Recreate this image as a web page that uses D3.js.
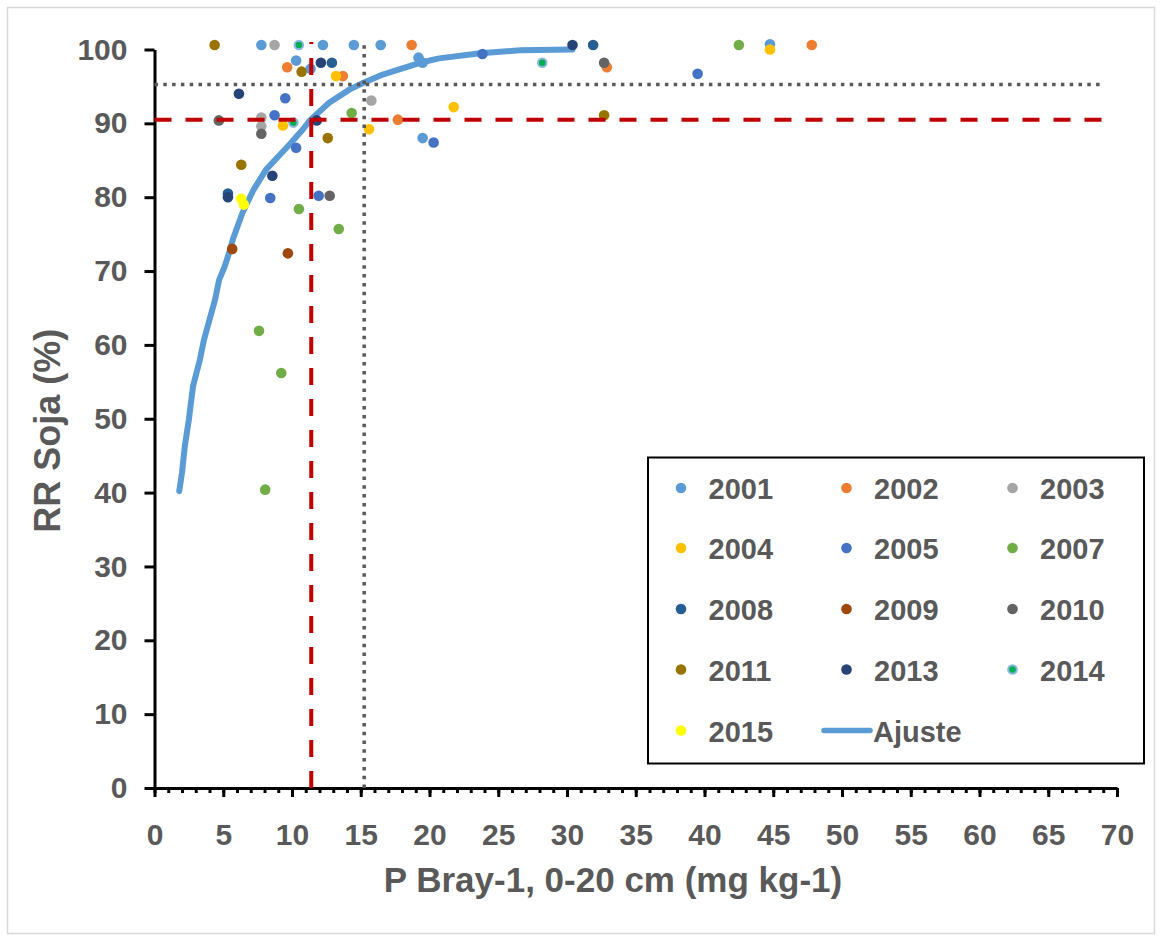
<!DOCTYPE html>
<html>
<head>
<meta charset="utf-8">
<script src="https://cdn.jsdelivr.net/npm/d3@7"></script>
<style>
  body { margin: 0; background: #fff; }
  text { font-family: "Liberation Sans", Arial, sans-serif; font-weight: bold; fill: #595959; }
</style>
</head>
<body>
<div id="chart"></div>
<script>
// data: [P Bray-1, RR %]
const years = ['2001', '2002', '2003', '2004', '2005', '2007', '2008', '2009', '2010', '2011', '2013', '2014', '2015'];
const colors = ['#5B9BD5', '#ED7D31', '#A5A5A5', '#FFC000', '#4472C4', '#70AD47', '#255E91', '#9E480E', '#636363', '#997300', '#264478', '#00B050', '#FFFF00'];

const pts2001 = [[7.77, 100.6], [12.25, 100.6], [14.5, 100.6], [16.45, 100.6], [10.3, 98.5], [11.35, 97.4], [19.2, 98.9], [19.5, 98.2], [19.5, 88.0], [44.76, 100.7]];
const pts2002 = [[18.7, 100.6], [9.65, 97.6], [13.7, 96.4], [17.7, 90.5], [32.9, 97.6], [47.8, 100.6]];
const pts2003 = [[8.73, 100.6], [15.77, 93.1], [7.77, 90.8], [7.77, 89.6]];
const pts2004 = [[13.2, 96.4], [21.76, 92.2], [9.34, 89.7], [15.6, 89.2], [44.76, 100.0]];
const pts2005 = [[9.51, 93.4], [8.73, 91.1], [20.3, 87.4], [10.3, 86.7], [23.85, 99.4], [39.5, 96.7], [8.42, 79.9], [11.94, 80.2]];
const pts2007 = [[14.34, 91.4], [42.5, 100.6], [10.5, 78.4], [13.4, 75.7], [7.6, 61.9], [9.22, 56.2], [8.05, 40.4]];
const pts2008 = [[12.9, 98.2], [31.9, 100.6], [5.34, 80.5]];
const pts2009 = [[5.65, 73.0], [9.7, 72.4]];
const pts2010 = [[4.68, 90.4], [7.77, 88.6], [32.7, 98.2], [12.74, 80.2]];
const pts2011 = [[4.37, 100.6], [10.7, 97.0], [12.6, 88.0], [32.7, 91.1], [6.31, 84.4]];
const pts2013 = [[12.1, 98.2], [6.14, 94.0], [11.8, 90.4], [30.4, 100.6], [8.57, 82.9], [5.34, 80.0]];
const pts2014 = [[10.5, 100.6], [10.1, 90.1], [28.2, 98.2]];
const pts2015 = [[6.31, 79.8], [6.5, 79.0]];
const allPoints = [pts2001, pts2002, pts2003, pts2004, pts2005, pts2007, pts2008, pts2009, pts2010, pts2011, pts2013, pts2014, pts2015];

// fitted curve ("Ajuste")
const ajuste = [[1.8, 40.2], [2.0, 42.7], [2.2, 46.2], [2.5, 49.9], [2.8, 54.4], [3.3, 58.0], [3.6, 60.7], [4.0, 63.4],
  [4.4, 66.1], [4.7, 68.8], [5.1, 70.6], [5.5, 72.9], [5.7, 74.3], [6.4, 77.9], [7.2, 81.0], [8.1, 83.7], [8.9, 85.3],
  [9.8, 87.1], [10.8, 89.2], [11.3, 90.4], [12.7, 92.8], [14.2, 94.6], [15.2, 95.5], [16.6, 96.6], [17.8, 97.3],
  [19.3, 98.2], [20.7, 98.8], [23.7, 99.5], [26.6, 99.9], [30.4, 100]];

// critical levels
const critRed = [11.4, 90.5];
const critDot = [15.25, 95.25];

const xTicks = d3.range(0, 71, 5);
const yTicks = d3.range(0, 101, 10);

const width = 1162, height = 941;

const svg = d3.select('#chart').append('svg')
  .attr('width', width)
  .attr('height', height);

svg.append('rect')
  .attr('x', 7.5).attr('y', 7.5)
  .attr('width', 1147).attr('height', 926)
  .attr('fill', '#fff')
  .attr('stroke', '#D9D9D9')
  .attr('stroke-width', 1.5);

const x = d3.scaleLinear().domain([0, 70]).range([154.5, 1117]);
const y = d3.scaleLinear().domain([0, 100]).range([788, 49.5]);

// x axis, minor then major ticks
const xMinor = svg.append('g')
  .attr('transform', `translate(0,${y(0)})`)
  .call(d3.axisBottom(x).tickValues(d3.range(0, 71, 1)).tickSize(5).tickSizeOuter(0).tickFormat(''));
xMinor.select('.domain').remove();

const xAxis = svg.append('g')
  .attr('transform', `translate(0,${y(0)})`)
  .call(d3.axisBottom(x).tickValues(xTicks).tickSize(9).tickSizeOuter(0).tickPadding(27));

const yAxis = svg.append('g')
  .attr('transform', `translate(${x(0)},0)`)
  .call(d3.axisLeft(y).tickValues(yTicks).tickSize(10).tickSizeOuter(0).tickPadding(17));

svg.selectAll('.domain').attr('stroke', '#000').attr('stroke-width', 3);
svg.selectAll('.tick line').attr('stroke', '#000').attr('stroke-width', 3);
svg.selectAll('.tick text')
  .attr('font-size', 30)
  .attr('font-family', '"Liberation Sans", Arial, sans-serif')
  .attr('font-weight', 'bold')
  .attr('fill', '#595959');

// axis titles
svg.append('text')
  .attr('x', 613)
  .attr('y', 892)
  .attr('text-anchor', 'middle')
  .attr('font-size', 35)
  .text('P Bray-1, 0-20 cm (mg kg-1)');

svg.append('text')
  .attr('transform', `translate(60,${(y(0) + y(100)) / 2 + 12}) rotate(-90)`)
  .attr('text-anchor', 'middle')
  .attr('font-size', 36)
  .text('RR Soja (%)');

// fitted curve
const line = d3.line().x(d => x(d[0])).y(d => y(d[1]));
svg.append('path')
  .datum(ajuste)
  .attr('d', line)
  .attr('fill', 'none')
  .attr('stroke', '#5B9BD5')
  .attr('stroke-width', 6)
  .attr('stroke-linejoin', 'round')
  .attr('stroke-linecap', 'round');

// points
function drawMarker(g, cx, cy, i) {
  if (years[i] === '2014') {
    g.append('circle').attr('cx', cx).attr('cy', cy).attr('r', 4.3)
      .attr('fill', colors[i]).attr('stroke', '#8DB7E2').attr('stroke-width', 2);
  } else {
    g.append('circle').attr('cx', cx).attr('cy', cy).attr('r', 5.3).attr('fill', colors[i]);
  }
}

const pointsG = svg.append('g');
allPoints.forEach((pts, i) => {
  pts.forEach(d => drawMarker(pointsG, x(d[0]), y(d[1]), i));
});

// reference lines
const refG = svg.append('g');
refG.append('line')
  .attr('x1', x(0)).attr('x2', x(69))
  .attr('y1', y(critDot[1])).attr('y2', y(critDot[1]))
  .attr('stroke', '#595959').attr('stroke-width', 3.5).attr('stroke-dasharray', '3.5,5.3');
refG.append('line')
  .attr('x1', x(critDot[0])).attr('x2', x(critDot[0]))
  .attr('y1', y(0)).attr('y2', y(100.6))
  .attr('stroke', '#595959').attr('stroke-width', 3.5).attr('stroke-dasharray', '3.5,5.3');
refG.append('line')
  .attr('x1', x(0)).attr('x2', x(69))
  .attr('y1', y(critRed[1])).attr('y2', y(critRed[1]))
  .attr('stroke', '#C00000').attr('stroke-width', 4).attr('stroke-dasharray', '17,14');
refG.append('line')
  .attr('x1', x(critRed[0])).attr('x2', x(critRed[0]))
  .attr('y1', y(0)).attr('y2', y(101))
  .attr('stroke', '#C00000').attr('stroke-width', 4).attr('stroke-dasharray', '17,14');

// legend
const legend = svg.append('g');
legend.append('rect')
  .attr('x', 648).attr('y', 457.5)
  .attr('width', 496).attr('height', 306)
  .attr('fill', '#fff')
  .attr('stroke', '#000')
  .attr('stroke-width', 2);

const colX = [681, 846.5, 1012.5];
const rowY = [488, 548, 609, 669.5, 730.5];

years.forEach((yr, i) => {
  const cx = colX[i % 3], cy = rowY[Math.floor(i / 3)];
  drawMarker(legend, cx, cy, i);
  legend.append('text')
    .attr('x', cx + 27.5)
    .attr('y', cy + 11)
    .attr('font-size', 29)
    .text(yr);
});

legend.append('line')
  .attr('x1', 824).attr('x2', 870)
  .attr('y1', rowY[4]).attr('y2', rowY[4])
  .attr('stroke', '#5B9BD5').attr('stroke-width', 5.5).attr('stroke-linecap', 'round');
legend.append('text')
  .attr('x', 873)
  .attr('y', rowY[4] + 11)
  .attr('font-size', 29)
  .text('Ajuste');
</script>
</body>
</html>
